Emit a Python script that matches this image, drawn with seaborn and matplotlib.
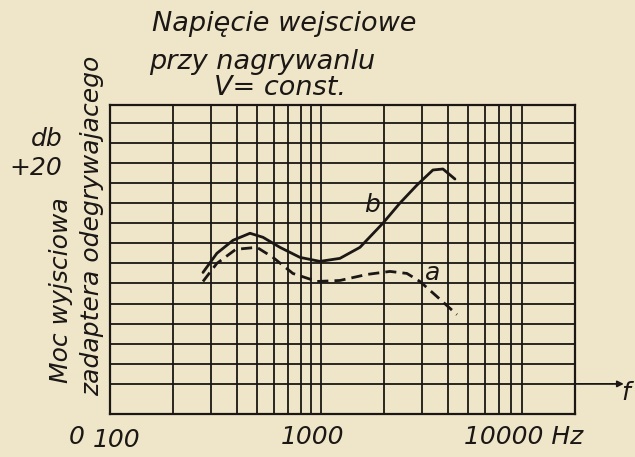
import numpy as np
import pandas as pd
import matplotlib
matplotlib.use('Agg')
import matplotlib.pyplot as plt
import seaborn as sns

# values (Hz, dB above the f axis)
freq_b = [276, 321, 383, 461, 531, 639, 795, 989, 1230, 1531, 1966, 2367, 2852, 3394, 3786, 4316]
level_b = [11.1, 13.0, 14.3, 15.0, 14.6, 13.6, 12.6, 12.2, 12.5, 13.6, 16.0, 18.0, 19.8, 21.3, 21.4, 20.4]

freq_a = [276, 321, 395, 497, 592, 736, 957, 1230, 1652, 2123, 2556, 2946, 3546, 4411]
level_a = [10.2, 12.0, 13.4, 13.6, 12.6, 11.0, 10.2, 10.3, 10.9, 11.2, 11.0, 10.2, 8.7, 6.9]

grid_freqs = [200, 300, 400, 500, 600, 700, 800, 900, 1000,
              2000, 3000, 4000, 5000, 6000, 7000, 8000, 9000]
grid_levels = list(range(0, 27, 2))

x_labels = ['100', '1000', '10000 Hz']

paper = '#efe5c9'
ink = '#1a1714'

sns.set_theme(style='white')
plt.rcParams['font.family'] = ['DejaVu Sans']

fig = plt.figure(figsize=(6.35, 4.57), dpi=100, facecolor=paper)
ax = fig.add_axes([0.1732, 0.094, 0.7323, 0.676])
ax.set_facecolor(paper)

ax.set_xscale('log')
ax.set_xlim(100, 16000)
ax.set_ylim(-3, 27.76)

for f in grid_freqs:
    ax.axvline(f, color=ink, lw=1.3, zorder=1)
for lv in grid_levels:
    ax.axhline(lv, color=ink, lw=1.3, zorder=1)

df_b = pd.DataFrame({'f': freq_b, 'db': level_b})
df_a = pd.DataFrame({'f': freq_a, 'db': level_a})
sns.lineplot(data=df_b, x='f', y='db', ax=ax, color=ink, lw=2.0, zorder=3)
sns.lineplot(data=df_a, x='f', y='db', ax=ax, color=ink, lw=2.0, zorder=3)
ax.lines[-1].set_dashes((4, 2.2))

for s in ax.spines.values():
    s.set_color(ink)
    s.set_linewidth(1.6)

ax.set_xticks([])
ax.set_yticks([])
ax.set_xlabel('')
ax.set_ylabel('')
ax.minorticks_off()

hand = dict(color=ink, style='italic', fontsize=18)

ax.text(1750, 17.8, 'b', ha='center', va='center', **hand)
ax.text(3400, 11.0, 'a', ha='center', va='center', **hand)

# f axis arrow
ax.annotate('', xy=(1.105, 0), xycoords=('axes fraction', 'data'),
            xytext=(1.0, 0), textcoords=('axes fraction', 'data'),
            arrowprops=dict(arrowstyle='-|>', color=ink, lw=1.3,
                            mutation_scale=9, shrinkA=0, shrinkB=0),
            annotation_clip=False)
fig.text(621 / 635, 1 - 393 / 457, 'f', ha='left', va='center', **hand)

# frequency labels
fig.text(117 / 635, 1 - 440 / 457, x_labels[0], ha='center', va='center', **hand)
fig.text(313 / 635, 1 - 437 / 457, x_labels[1], ha='center', va='center', **hand)
fig.text(524 / 635, 1 - 437 / 457, x_labels[2], ha='center', va='center', **hand)

# level labels
fig.text(47 / 635, 1 - 139 / 457, 'db', ha='center', va='center', **hand)
fig.text(36 / 635, 1 - 168 / 457, '+20', ha='center', va='center', **hand)
fig.text(77 / 635, 1 - 437 / 457, '0', ha='center', va='center', **hand)

# axis title, two rotated lines
fig.text(61 / 635, 1 - 290 / 457, 'Moc wyjsciowa', rotation=90,
         ha='center', va='center', color=ink, style='italic', fontsize=18)
fig.text(92 / 635, 1 - 226 / 457, 'zadaptera odegrywajacego', rotation=90,
         ha='center', va='center', color=ink, style='italic', fontsize=18)

# heading
head = dict(color=ink, style='italic', fontsize=19.5)
fig.text(284 / 635, 1 - 24 / 457, 'Napięcie wejsciowe', ha='center', va='center', **head)
fig.text(262 / 635, 1 - 62 / 457, 'przy nagrywanlu', ha='center', va='center', **head)
fig.text(280 / 635, 1 - 88 / 457, 'V= const.', ha='center', va='center', **head)

fig.savefig('out.png', dpi=100, facecolor=paper)
